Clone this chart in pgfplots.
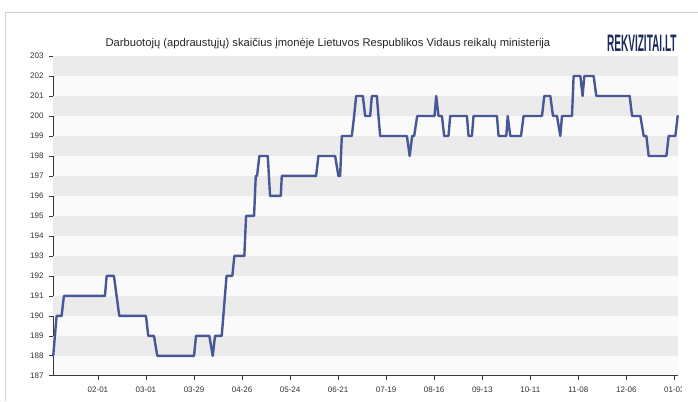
\documentclass[border=0pt]{standalone}
\usepackage{fontspec}
\setmainfont{Liberation Sans}
\usepackage{pgfplots}
\pgfplotsset{compat=1.18}
\definecolor{bandgray}{HTML}{EBEBEB}
\definecolor{plotbg}{HTML}{FAFAFA}
\definecolor{series}{RGB}{72,88,150}
\definecolor{axisgray}{HTML}{3A3A3A}
\definecolor{logoblue}{HTML}{1D2B5C}

\begin{document}
\begin{tikzpicture}[x=1pt,y=1pt]
\fill[white] (0,0) rectangle (698,401);
\draw[black!18] (5,0) -- (5,389) -- (698,389);

% title and logo
\node[font=\fontsize{11.2}{13}\selectfont, text=black!85] at (328,357) {Darbuotojų (apdraustųjų) skaičius įmonėje Lietuvos Respublikos Vidaus reikalų ministerija};
\node[anchor=east, inner sep=0pt] at (677,358) {\scalebox{0.72}[1.7]{\fontsize{14}{14}\selectfont\bfseries\color{logoblue}REKVIZITAI.LT}};

\begin{axis}[
  at={(53pt,25pt)}, anchor=south west, scale only axis,
  width=625pt, height=320pt,
  xmin=1.8, xmax=366, ymin=187, ymax=203,
  axis x line*=bottom, axis y line*=left,
  axis line style={axisgray, -, line width=0.8pt},
  axis background/.style={fill=plotbg},
  tick align=outside, major tick length=4pt,
  tick style={axisgray, line width=0.8pt},
  xtick={28,56,...,364},
  xticklabels={02-01,03-01,03-29,04-26,05-24,06-21,07-19,08-16,09-13,10-11,11-08,12-06,01-03},
  ytick={187,188,...,203},
  ticklabel style={font=\fontsize{8}{9}\selectfont, text=black!80},
  xticklabel style={yshift=-3pt},
  yticklabel style={xshift=-2pt},
  /pgf/number format/assume math mode=true,
  /pgf/number format/1000 sep={},
  clip=false,
]
% alternating bands
\fill[bandgray] (axis cs:1.8,188) rectangle (axis cs:366,189);
\fill[bandgray] (axis cs:1.8,190) rectangle (axis cs:366,191);
\fill[bandgray] (axis cs:1.8,192) rectangle (axis cs:366,193);
\fill[bandgray] (axis cs:1.8,194) rectangle (axis cs:366,195);
\fill[bandgray] (axis cs:1.8,196) rectangle (axis cs:366,197);
\fill[bandgray] (axis cs:1.8,198) rectangle (axis cs:366,199);
\fill[bandgray] (axis cs:1.8,200) rectangle (axis cs:366,201);
\fill[bandgray] (axis cs:1.8,202) rectangle (axis cs:366,203);

\addplot[series, line width=2.4pt, line join=round, line cap=round] coordinates {
(1.93,188) (3.91,190) (6.83,190) (8.17,191) (32.08,191) (33.07,192) (37.33,192)
(40.43,190) (56.0,190) (57.34,189) (60.67,189) (62.59,188) (84.0,188) (85.17,189)
(92.93,189) (94.91,188) (96.25,189) (100.16,189) (102.96,192) (106.34,192)
(107.51,193) (113.34,193) (114.33,195) (119.0,195) (119.99,197) (120.75,197)
(122.09,198) (126.99,198) (128.33,196) (134.58,196) (135.16,197) (155.17,197)
(156.51,198) (166.25,198) (168.18,197) (169.17,197) (170.16,199) (175.99,199)
(177.33,200) (178.50,201) (182.41,201) (183.75,200) (186.67,200) (187.66,201)
(190.57,201) (191.51,200) (192.50,199) (208.08,199) (209.71,198) (211.17,199)
(212.33,199) (214.08,200) (224.18,200) (225.17,201) (226.51,200) (228.49,200)
(229.83,199) (232.34,199) (233.33,200) (243.08,200) (244.01,199) (245.99,199)
(246.92,200) (260.57,200) (261.51,199) (266.0,199) (266.87,200) (268.33,199)
(274.58,199) (276.09,200) (286.83,200) (288.17,201) (291.67,201) (293.24,200)
(295.58,200) (297.5,199) (298.49,200) (304.33,200) (305.26,202) (309.17,202)
(310.51,201) (311.5,202) (316.92,202) (318.5,201) (337.93,201) (339.33,200)
(344.17,200) (346.09,199) (347.67,199) (349.01,198) (359.33,198) (360.67,199)
(364.58,199) (365.92,200)
};
\end{axis}
% right edge of the chart frame hides the end of the last label
\fill[white] (682.5,0) rectangle (698,22);
\end{tikzpicture}
\end{document}
